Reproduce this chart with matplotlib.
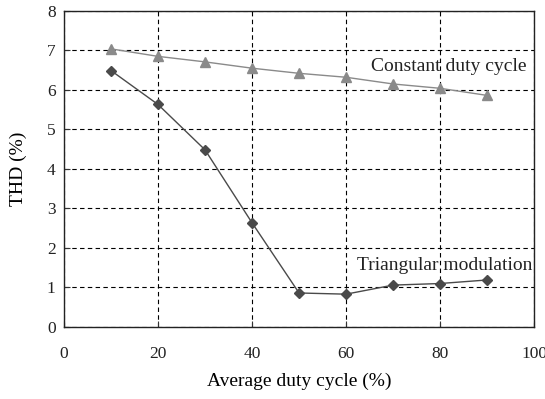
import matplotlib
matplotlib.use("Agg")
import matplotlib.pyplot as plt

# Data
duty_cycle = [10, 20, 30, 40, 50, 60, 70, 80, 90]
thd_constant = [7.04, 6.85, 6.71, 6.55, 6.42, 6.32, 6.15, 6.04, 5.86]
thd_triangular = [6.49, 5.63, 4.48, 2.63, 0.85, 0.82, 1.05, 1.09, 1.18]

x_ticks = [0, 20, 40, 60, 80, 100]
y_ticks = [0, 1, 2, 3, 4, 5, 6, 7, 8]

plt.rcParams["font.family"] = ["Liberation Serif", "DejaVu Serif"]
plt.rcParams["text.color"] = "#222222"

fig = plt.figure(figsize=(5.45, 3.99), dpi=100)
ax = fig.add_axes([0.1174, 0.1817, 0.8626, 0.7907])

ax.plot(duty_cycle, thd_constant, color="#8a8a8a", marker="^", markersize=7,
        linewidth=1.0, zorder=3)
ax.plot(duty_cycle, thd_triangular, color="#4a4a4a", marker="D", markersize=5,
        linewidth=1.0, zorder=3)

ax.text(65.4, 6.6, "Constant duty cycle", fontsize=14, va="center", ha="left")
ax.text(62.4, 1.55, "Triangular modulation", fontsize=14, va="center", ha="left")

ax.set_xlim(0, 100)
ax.set_ylim(0, 8)
ax.set_xticks(x_ticks)
ax.set_yticks(y_ticks)
ax.grid(True, color="black", linestyle=(0, (4, 3)), linewidth=0.8)
ax.tick_params(direction="in", length=4, labelsize=12.5, color="#333333",
               labelcolor="#222222")
ax.tick_params(axis="x", pad=14)
ax.tick_params(axis="y", pad=6)
for sp in ax.spines.values():
    sp.set_linewidth(1.0)
    sp.set_color("#222222")

ax.set_xlabel("Average duty cycle (%)", fontsize=14, labelpad=8)
ax.set_ylabel("THD (%)", fontsize=14, labelpad=14)

fig.savefig("out.png", dpi=100)
